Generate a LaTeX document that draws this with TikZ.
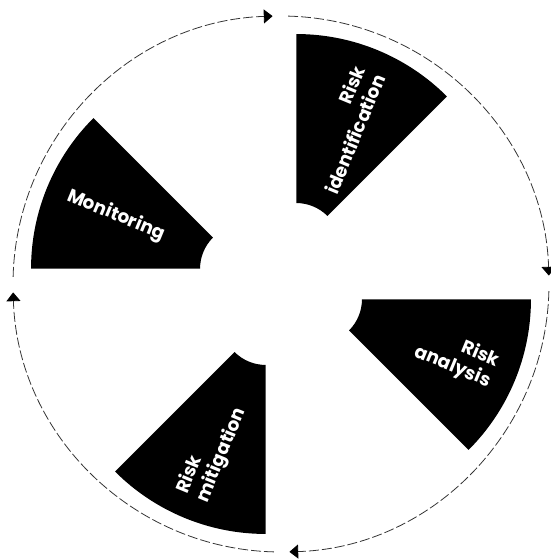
\documentclass[tikz,border=0pt]{standalone}
\usepackage{fontspec}
\usepackage{tikz}
\usetikzlibrary{arrows.meta, positioning}
\newfontfamily\lblfont{Poppins}
\tikzset{every node/.style={align=center}}

\begin{document}
\begin{tikzpicture}[
    wedge/.style={fill=black},
    lbl/.style={font={\lblfont\bfseries\fontsize{10.5}{12.5}\selectfont},text=white,inner sep=0pt},
    ring/.style={line width=0.45pt,black!80,dash pattern=on 0.2cm off 0.06cm},
    flow/.style={ring,-{Triangle[length=5pt,width=8pt,color=black]}}
]
  \useasboundingbox (-5.62,-5.5) rectangle (5.38,5.68);

  % cycle ring, clockwise
  \foreach \b in {90,0,-90,-180}
      \draw[flow] (\b-1.5:5.36) arc[start angle=\b-1.5, end angle=\b-88.2, radius=5.36];

  % exploded wedges
  \foreach \a in {45,135,225,315}
      \fill[wedge,shift={(\a+22.5:0.8)}] (\a:0.88) arc[start angle=\a, end angle=\a+45, radius=0.88]
          -- (\a+45:4.26) arc[start angle=\a+45, end angle=\a, radius=4.26] -- cycle;

  \node[lbl,rotate=67.5,anchor=east,align=right] (ident) at (67.5:4.62)   {Risk\\identification};
  \node[lbl,rotate=-22.5,anchor=east,align=right] (anal) at (-22.5:4.62)  {Risk\\analysis};
  \node[lbl,rotate=67.5,anchor=west,align=left]   (mitig) at (247.5:4.62) {Risk\\mitigation};
  \node[lbl,rotate=-22.5,anchor=west]             (monit) at (157.5:4.62) {Monitoring};
\end{tikzpicture}
\end{document}
